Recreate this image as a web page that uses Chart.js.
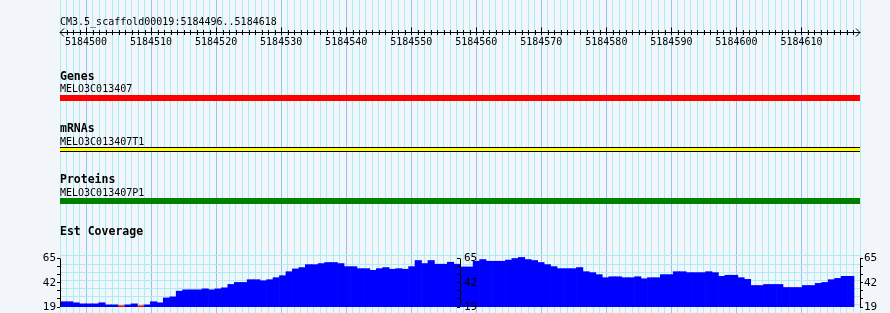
<!DOCTYPE html>
<html>
<head>
<meta charset="utf-8">
<script src="https://cdn.jsdelivr.net/npm/chart.js@4/dist/chart.umd.min.js"></script>
<style>
  html, body { margin: 0; padding: 0; background: #f2f6fa; }
  canvas { display: block; }
</style>
</head>
<body>
<canvas id="browser" width="890" height="313"></canvas>
<script>
// region on view
const seqName = 'CM3.5_scaffold00019';
const viewStart = 5184496;
const viewStop = 5184618;

const rulerLabels = [5184500, 5184510, 5184520, 5184530, 5184540, 5184550,
                     5184560, 5184570, 5184580, 5184590, 5184600, 5184610];

const trackTitles = ['Genes', 'mRNAs', 'Proteins', 'Est Coverage'];
const featureNames = ['MELO3C013407', 'MELO3C013407T1', 'MELO3C013407P1'];
// features run past both ends of the view, so they are clipped to it
const featureStarts = [5184496, 5184496, 5184496];
const featureEnds = [5184619, 5184619, 5184619];

// EST coverage, one value per bin (values under 19 show as red stubs)
const estCoverage = [
  24, 24, 23, 22, 22, 22, 23, 21, 21, 18, 21, 22, 18, 21, 24, 23, 27.6, 28.6, 34, 35.3,
  35.3, 35.3, 36.2, 35.3, 36.2, 37.2, 40.4, 42.3, 42.3, 44.9, 44.9, 43.9, 44.9, 46.8, 48.7, 52.5, 55.1, 56.4, 59.2, 59.2,
  60.2, 61.2, 61.2, 60.2, 57.3, 57.3, 55.4, 55.4, 53.8, 55.4, 56.4, 54.8, 55.4, 54.8, 57.3, 63.1, 60.2, 63.1, 59.6, 59.6,
  61.5, 59.6, 57, 57, 62.4, 64, 62.4, 62.4, 62.4, 63.5, 65, 66, 64, 63.1, 61.2, 59.2, 57.3, 55.4, 55.4, 55.4,
  56.4, 52.5, 51.6, 49.7, 46.8, 47.7, 47.7, 46.8, 46.8, 47.7, 45.8, 46.8, 46.8, 49.7, 49.7, 52.5, 52.5, 51.6, 51.6, 51.6,
  52.5, 51.6, 48.1, 49.1, 49.1, 46.8, 45.2, 39.4, 39.4, 40.4, 40.4, 40.4, 37.5, 37.5, 37.5, 39.4, 39.4, 41.4, 42.3, 44.9,
  46.1, 48.1, 48.1
];
const covTicks = [19, 26.67, 34.33, 42, 49.67, 57.33, 65];
const covLabels = ['19', '', '', '42', '', '', '65'];

// ---- look ----
const BG = '#f2f6fa';
const GRID_MINOR = '#a8eef2';
const GRID_MAJOR = '#8cc8f0';
const MONO = '"DejaVu Sans Mono", "Liberation Mono", monospace';

const PLOT_BOTTOM = 307;          // pixel row of coverage baseline
const COV_65_ROW = 258.5;         // pixel row of top coverage tick
const covMin = 19, covMax = 65;
const covTop = covMin + (covMax - covMin) * PLOT_BOTTOM / (PLOT_BOTTOM - COV_65_ROW);
const covFill = 0.9925;           // coverage bins stop a few px short of the right end
const hGridShift = 2.4;           // coverage grid sits a little above the ticks

// rows (pixel y) for the text and glyphs
const rows = {
  rulerTitle: 25, ruler: 32.5, rulerLabel: 45,
  titles: [80, 131.5, 183, 235],
  names: [92, 144.5, 195.5],
  glyphs: [98, 149.5, 201]
};

const midBp = (viewStart + viewStop + 1) / 2;

function featureLine(i, color, width, order) {
  return {
    type: 'line',
    xAxisID: 'x', yAxisID: 'rows',
    data: [{x: featureStarts[i], y: rows.glyphs[i]}, {x: featureEnds[i], y: rows.glyphs[i]}],
    borderColor: color, borderWidth: width, borderCapStyle: 'butt',
    pointRadius: 0, order: order
  };
}

function covAxis(position, width, extraTicks) {
  return {
    type: 'linear', axis: 'y', position: position, min: covMin, max: covTop,
    afterBuildTicks: s => { s.ticks = covTicks.map(v => ({value: v})); },
    afterFit: s => { s.width = width; s.paddingTop = 0; s.paddingBottom = 0; },
    border: {display: false},
    grid: {display: true, drawOnChartArea: false, drawTicks: true, tickLength: 3, tickColor: '#000', z: 1},
    ticks: Object.assign({z: 1, color: '#000', autoSkip: false, padding: 1,
            font: {family: MONO, size: 11}, callback: (v, i) => covLabels[i]}, extraTicks || {})
  };
}

const gridColor = ctx => (ctx.tick && Math.round(ctx.tick.value) % 10 === 0) ? GRID_MAJOR : GRID_MINOR;

const decor = {
  id: 'decor',
  afterLayout(chart) {
    // middle coverage axis sits at the centre of the view
    const s = chart.scales.covMid;
    const px = chart.scales.x.getPixelForValue(midBp);
    s.left = px; s.right = px; s.width = 0;
  },
  beforeDraw(chart) {
    const c = chart.ctx;
    c.save();
    c.fillStyle = BG;
    c.fillRect(0, 0, chart.width, chart.height);
    c.restore();
  },
  beforeDatasetsDraw(chart) {
    const c = chart.ctx;
    const x = chart.scales.x, r = chart.scales.rows;
    c.save();
    c.fillStyle = '#000';
    c.strokeStyle = '#000';
    c.lineWidth = 1;
    c.textBaseline = 'alphabetic';
    c.font = '10px ' + MONO;
    c.textAlign = 'left';
    c.fillText(seqName + ':' + viewStart + '..' + viewStop, x.left, r.getPixelForValue(rows.rulerTitle));

    // ruler
    const ry = r.getPixelForValue(rows.ruler);
    c.beginPath();
    c.moveTo(x.left, ry); c.lineTo(x.right, ry);
    c.moveTo(x.left + 4, ry - 4); c.lineTo(x.left, ry); c.lineTo(x.left + 4, ry + 4);
    c.moveTo(x.right - 4, ry - 4); c.lineTo(x.right, ry); c.lineTo(x.right - 4, ry + 4);
    for (let bp = viewStart + 1; bp <= viewStop; bp++) {
      const px = Math.round(x.getPixelForValue(bp)) + 0.5;
      const major = rulerLabels.includes(bp);
      c.moveTo(px, ry - (major ? 5 : 2.5)); c.lineTo(px, ry + 2.5);
    }
    c.stroke();
    c.textAlign = 'center';
    rulerLabels.forEach(bp => {
      c.fillText(String(bp), x.getPixelForValue(bp), r.getPixelForValue(rows.rulerLabel));
    });

    // track titles and feature names
    c.textAlign = 'left';
    trackTitles.forEach((t, i) => {
      c.font = 'bold 11.5px ' + MONO;
      c.fillText(t, x.left, r.getPixelForValue(rows.titles[i]));
    });
    c.font = '10px ' + MONO;
    featureNames.forEach((n, i) => {
      c.fillText(n, x.left, r.getPixelForValue(rows.names[i]));
    });
    c.restore();
  },
  afterDatasetsDraw(chart) {
    // vertical axis lines of the coverage panel
    const c = chart.ctx;
    const x = chart.scales.x, cov = chart.scales.cov;
    const y0 = cov.getPixelForValue(covMin), y1 = cov.getPixelForValue(covMax);
    c.save();
    c.strokeStyle = '#000';
    c.lineWidth = 1;
    c.beginPath();
    [viewStart, midBp, viewStop + 1].forEach(bp => {
      const px = Math.round(x.getPixelForValue(bp)) + 0.5;
      c.moveTo(px, y0); c.lineTo(px, y1);
    });
    c.stroke();
    c.restore();
  }
};

new Chart(document.getElementById('browser'), {
  data: {
    datasets: [
      {
        type: 'bar', label: 'Est Coverage', xAxisID: 'bins', yAxisID: 'cov',
        data: estCoverage.map((v, i) => ({x: i + 0.5, y: v})),
        backgroundColor: '#0000ff', borderWidth: 0,
        barPercentage: 1, categoryPercentage: 1, grouped: false, order: 5
      },
      {
        type: 'bar', label: 'below range', xAxisID: 'bins', yAxisID: 'cov',
        data: estCoverage.map((v, i) => v < covMin ? {x: i + 0.5, y: [covMin, covMin + 1.2]} : null).filter(d => d),
        backgroundColor: '#ff0000', borderWidth: 0,
        barPercentage: 1, categoryPercentage: 1, grouped: false, order: 4
      },
      featureLine(0, '#ff0000', 6, 3),
      featureLine(1, '#000000', 5, 3),
      featureLine(1, '#ffff00', 3, 2),
      featureLine(2, '#008000', 6, 3)
    ]
  },
  options: {
    responsive: false,
    devicePixelRatio: 1,
    animation: false,
    layout: {padding: {left: 38, right: 0, top: 0, bottom: 0}},
    plugins: {legend: {display: false}, tooltip: {enabled: false}},
    scales: {
      x: {
        type: 'linear', axis: 'x', position: 'bottom', min: viewStart, max: viewStop + 1,
        afterBuildTicks: s => {
          const t = [];
          for (let bp = viewStart; bp <= viewStop + 1; bp++) t.push({value: bp});
          s.ticks = t;
        },
        afterFit: s => { s.height = 6; s.paddingLeft = 0; s.paddingRight = 0; },
        ticks: {display: false, autoSkip: false},
        border: {display: false},
        grid: {color: gridColor, tickColor: gridColor, tickLength: 6}
      },
      bins: {type: 'linear', axis: 'x', position: 'bottom', display: false, offset: false,
             min: 0, max: estCoverage.length / covFill},
      rows: {type: 'linear', axis: 'y', position: 'left', display: false, min: 0, max: PLOT_BOTTOM, reverse: true},
      hgrid: {
        type: 'linear', axis: 'y', position: 'left', min: covMin, max: covTop,
        afterBuildTicks: s => { s.ticks = covTicks.map(v => ({value: v + hGridShift})); },
        afterFit: s => { s.width = 0; s.paddingTop = 0; s.paddingBottom = 0; },
        ticks: {display: false, autoSkip: false},
        border: {display: false},
        grid: {color: GRID_MINOR, drawTicks: false}
      },
      cov: covAxis('left', 22),
      covMid: covAxis('left', 0, {mirror: true, padding: 4}),
      covRight: covAxis('right', 30)
    }
  },
  plugins: [decor]
});
</script>
</body>
</html>
